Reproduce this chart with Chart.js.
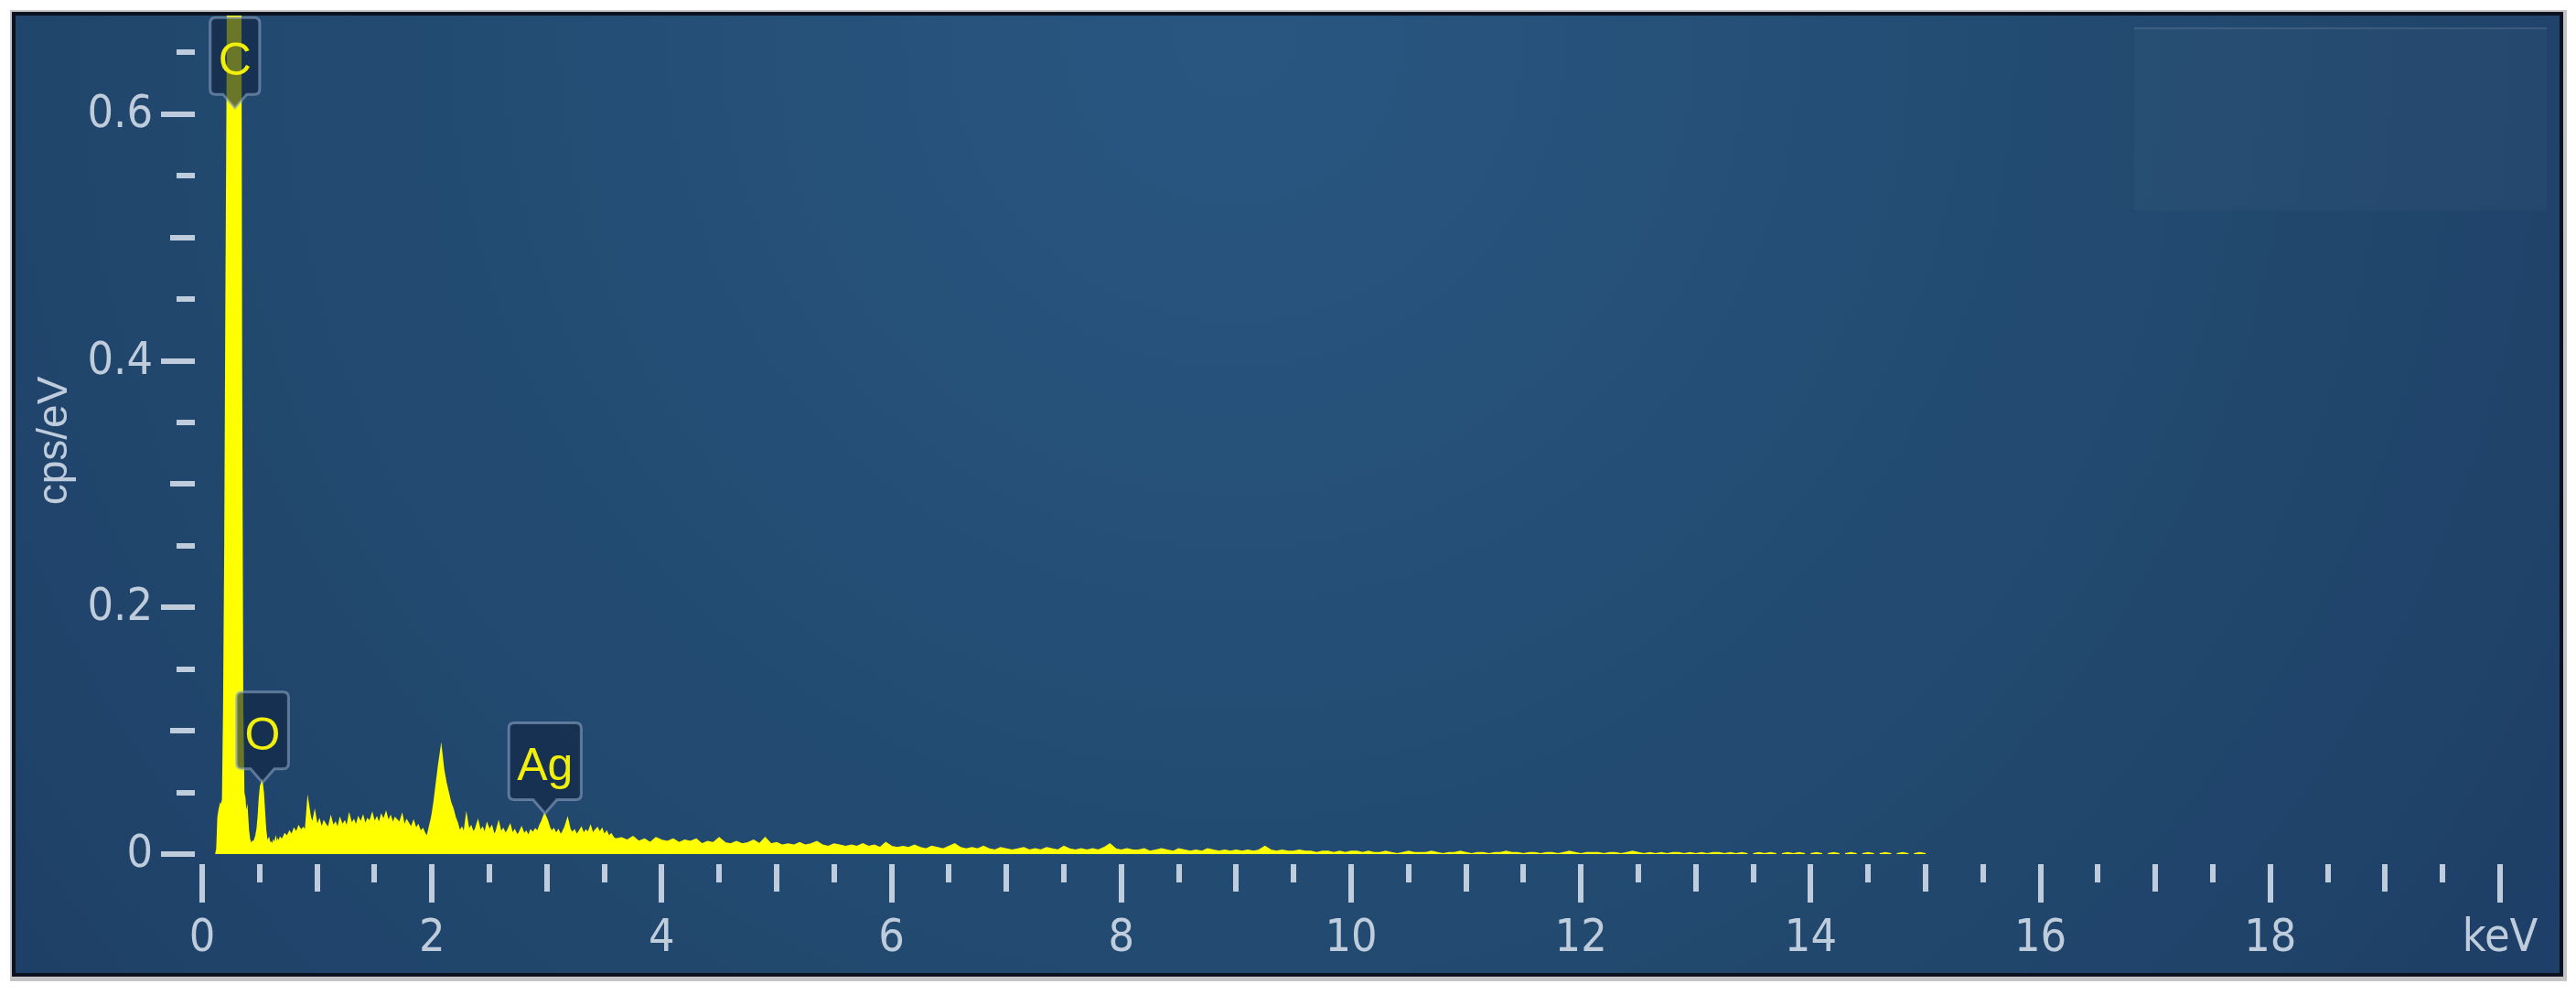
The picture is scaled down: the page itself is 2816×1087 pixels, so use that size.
<!DOCTYPE html>
<html>
<head>
<meta charset="utf-8">
<script src="https://cdn.jsdelivr.net/npm/chart.js@4.4.1/dist/chart.umd.min.js"></script>
<style>
html,body{margin:0;padding:0;background:#ffffff;overflow:hidden;}
canvas{display:block;}
</style>
</head>
<body>
<canvas id="chart" width="2816" height="1087"></canvas>
<script>
// ---------------- DATA ----------------
// Spectrum channels, segment A: 0.10 .. 0.69 keV, every 0.01 keV (cps/eV)
const segAStart = 0.10, segAStep = 0.01;
const segACounts = [
  0, 0, 0, 0.004, 0.03, 0.036, 0.04, 0.038, 0.045, 0.12,          // 0.10
  0.25, 0.45, 0.62, 0.95, 0.95, 0.95, 0.95, 0.95, 0.95, 0.95,     // 0.20
  0.95, 0.95, 0.95, 0.9, 0.4, 0.12, 0.05, 0.045, 0.03, 0.035,     // 0.30
  0.02, 0.012, 0.009, 0.008, 0.01, 0.009, 0.012, 0.015, 0.02, 0.03, // 0.40
  0.045, 0.055, 0.058, 0.05, 0.035, 0.02, 0.012, 0.01, 0.012, 0.008, // 0.50
  0.009, 0.006, 0.01, 0.008, 0.012, 0.007, 0.011, 0.009, 0.013, 0.012 // 0.60
];
// Segment B: 0.70 .. 3.60 keV, every 0.02 keV
const segBStart = 0.70, segBStep = 0.02;
const segBCounts = [
  0.012, 0.016, 0.014, 0.018, 0.015, 0.02, 0.017, 0.022, 0.019, 0.021,  // 0.70
  0.018, 0.042, 0.03, 0.024, 0.033, 0.022, 0.027, 0.02, 0.026, 0.023,   // 0.90
  0.021, 0.029, 0.022, 0.025, 0.02, 0.028, 0.023, 0.026, 0.021, 0.031,  // 1.10
  0.024, 0.027, 0.022, 0.029, 0.025, 0.03, 0.023, 0.028, 0.026, 0.032,  // 1.30
  0.025, 0.029, 0.024, 0.031, 0.027, 0.033, 0.026, 0.03, 0.024, 0.029,  // 1.50
  0.027, 0.025, 0.031, 0.022, 0.027, 0.024, 0.021, 0.026, 0.02, 0.023,  // 1.70
  0.018, 0.02, 0.016, 0.014, 0.022, 0.03, 0.042, 0.057, 0.072, 0.085,  // 1.90
  0.068, 0.058, 0.05, 0.042, 0.037, 0.03, 0.025, 0.018, 0.021, 0.016,  // 2.10
  0.03, 0.019, 0.022, 0.017, 0.02, 0.026, 0.018, 0.021, 0.016, 0.024,  // 2.30
  0.019, 0.022, 0.015, 0.018, 0.025, 0.017, 0.02, 0.016, 0.019, 0.023, // 2.50
  0.016, 0.019, 0.015, 0.017, 0.021, 0.016, 0.018, 0.014, 0.019, 0.017, // 2.70
  0.02, 0.018, 0.023, 0.027, 0.032, 0.028, 0.022, 0.018, 0.02, 0.016,  // 2.90
  0.019, 0.015, 0.018, 0.022, 0.028, 0.02, 0.017, 0.019, 0.015, 0.018, // 3.10
  0.021, 0.016, 0.019, 0.017, 0.022, 0.016, 0.019, 0.021, 0.017, 0.02, // 3.30
  0.015, 0.018, 0.014, 0.016, 0.013, 0.012                             // 3.50
];
// Segment C: 3.65 .. 15.00 keV, every 0.05 keV
const segCStart = 3.65, segCStep = 0.05;
const segCCounts = [
  0.013, 0.011, 0.014, 0.010, 0.012, 0.009, 0.013, 0.011, 0.010, 0.012, // 3.65
  0.009, 0.011, 0.010, 0.012, 0.008, 0.010, 0.009, 0.013, 0.009, 0.008, // 4.15
  0.010, 0.008, 0.009, 0.011, 0.008, 0.013, 0.008, 0.009, 0.007, 0.008, // 4.65
  0.007, 0.009, 0.007, 0.008, 0.010, 0.007, 0.006, 0.008, 0.007, 0.006, // 5.15
  0.007, 0.006, 0.008, 0.006, 0.007, 0.005, 0.009, 0.006, 0.005, 0.006, // 5.65
  0.005, 0.007, 0.005, 0.004, 0.006, 0.005, 0.004, 0.006, 0.008, 0.005, // 6.15
  0.004, 0.005, 0.004, 0.006, 0.004, 0.003, 0.005, 0.004, 0.003, 0.004, // 6.65
  0.005, 0.003, 0.004, 0.003, 0.005, 0.004, 0.003, 0.006, 0.004, 0.003, // 7.15
  0.004, 0.003, 0.004, 0.003, 0.005, 0.008, 0.004, 0.003, 0.004, 0.003, // 7.65
  0.003, 0.004, 0.002, 0.003, 0.004, 0.003, 0.002, 0.004, 0.003, 0.002, // 8.15
  0.003, 0.002, 0.004, 0.003, 0.002, 0.003, 0.002, 0.003, 0.002, 0.003, // 8.65
  0.002, 0.003, 0.006, 0.003, 0.002, 0.003, 0.002, 0.002, 0.003, 0.002, // 9.15
  0.002, 0.001, 0.002, 0.002, 0.001, 0.002, 0.001, 0.002, 0.002, 0.001, // 9.65
  0.002, 0.001, 0.001, 0.002, 0.001, 0.000, 0.001, 0.002, 0.001, 0.001, // 10.15
  0.001, 0.002, 0.001, 0.000, 0.001, 0.001, 0.002, 0.001, 0.000, 0.001, // 10.65
  0.001, 0.000, 0.001, 0.001, 0.002, 0.001, 0.001, 0.000, 0.001, 0.001, // 11.15
  0.000, 0.001, 0.001, 0.000, 0.001, 0.002, 0.001, 0.000, 0.001, 0.001, // 11.65
  0.001, 0.000, 0.001, 0.001, 0.000, 0.001, 0.002, 0.001, 0.000, 0.001, // 12.15
  0.000, 0.001, 0.000, 0.001, 0.001, 0.000, 0.001, 0.000, 0.001, 0.000, // 12.65
  0.001, 0.001, 0.000, 0.001, 0.000, 0.001, 0.000, 0.000, 0.001, 0.000, // 13.15
  0.001, 0.000, 0.000, 0.001, 0.000, 0.001, 0.000, 0.000, 0.001, 0.000, // 13.65
  0.000, 0.001, 0.000, 0.000, 0.001, 0.000, 0.000, 0.001, 0.000, 0.000, // 14.15
  0.001, 0.000, 0.000, 0.001, 0.000, 0.000, 0.001, 0.000               // 14.65
];

// Axis ticks
const xTickValues = [0, 2, 4, 6, 8, 10, 12, 14, 16, 18, 20];
const xTickLabels = ['0', '2', '4', '6', '8', '10', '12', '14', '16', '18', 'keV'];
const xMinorStep = 0.5;
const yTickValues = [0, 0.2, 0.4, 0.6];
const yTickLabels = ['0', '0.2', '0.4', '0.6'];
const yMinorStep = 0.05;
const yAxisTitle = 'cps/eV';

// Element peak tags
const peakLabels = ['C', 'O', 'Ag'];
const peakEnergies = [0.285, 0.525, 2.984];
const peakTipValues = [0.605, 0.058, 0.033];

// ---------------- BUILD ----------------
function buildSegment(start, step, counts) {
  return counts.map((v, i) => ({ x: +(start + i * step).toFixed(3), y: v }));
}
const spectrum = [].concat(
  buildSegment(segAStart, segAStep, segACounts),
  buildSegment(segBStart, segBStep, segBCounts),
  buildSegment(segCStart, segCStep, segCCounts)
);

const W = 2816, H = 1087;
const TICK_COLOR = 'rgba(205,216,230,0.92)';
const LABEL_COLOR = 'rgba(200,212,226,0.95)';
const LABEL_FONT = '"Liberation Sans Narrow", "DejaVu Sans Condensed", sans-serif';

const backgroundPlugin = {
  id: 'panelBackground',
  beforeDraw(chart) {
    const ctx = chart.ctx;
    ctx.save();
    ctx.fillStyle = '#ffffff';
    ctx.fillRect(0, 0, W, H);
    ctx.fillStyle = '#c4c4c4';
    ctx.fillRect(11, 11, 2795, 1062);
    ctx.fillStyle = '#0c1220';
    ctx.fillRect(13, 13, 2789, 1055);
    const g = ctx.createRadialGradient(1350, 40, 40, 1350, 40, 1750);
    g.addColorStop(0, '#285680');
    g.addColorStop(0.6, '#22496f');
    g.addColorStop(1, '#1e3f67');
    ctx.fillStyle = g;
    ctx.fillRect(17, 17, 2781, 1047);
    ctx.fillStyle = 'rgba(255,255,255,0.025)';
    ctx.fillRect(2333, 30, 451, 200);
    ctx.fillStyle = 'rgba(255,255,255,0.10)';
    ctx.fillRect(2333, 30, 451, 2);
    ctx.restore();
  }
};

function tagPath(ctx, cx, tipY, w, h, ph, pw, r) {
  const bottom = tipY - ph;
  const top = bottom - h;
  const left = cx - w / 2, right = cx + w / 2;
  ctx.beginPath();
  ctx.moveTo(left + r, top);
  ctx.lineTo(right - r, top);
  ctx.quadraticCurveTo(right, top, right, top + r);
  ctx.lineTo(right, bottom - r);
  ctx.quadraticCurveTo(right, bottom, right - r, bottom);
  ctx.lineTo(cx + pw, bottom);
  ctx.lineTo(cx, tipY);
  ctx.lineTo(cx - pw, bottom);
  ctx.lineTo(left + r, bottom);
  ctx.quadraticCurveTo(left, bottom, left, bottom - r);
  ctx.lineTo(left, top + r);
  ctx.quadraticCurveTo(left, top, left + r, top);
  ctx.closePath();
  return top;
}

const axesPlugin = {
  id: 'edsAxes',
  afterDatasetsDraw(chart) {
    const ctx = chart.ctx;
    const xs = chart.scales.x, ys = chart.scales.y;
    const area = chart.chartArea;
    ctx.save();
    // peak tags
    ctx.font = '50px "Liberation Sans", Arial, sans-serif';
    peakLabels.forEach((lab, i) => {
      const cx = xs.getPixelForValue(peakEnergies[i]);
      const tip = ys.getPixelForValue(peakTipValues[i]);
      const tw = ctx.measureText(lab).width;
      const w = tw + 18;
      const top = tagPath(ctx, cx, tip, w, 84, 15, 13, 6);
      ctx.fillStyle = 'rgba(16,36,64,0.62)';
      ctx.fill();
      ctx.lineWidth = 3;
      ctx.strokeStyle = 'rgba(150,172,200,0.55)';
      ctx.stroke();
      ctx.fillStyle = '#f2ef0a';
      ctx.textAlign = 'center';
      ctx.textBaseline = 'alphabetic';
      ctx.fillText(lab, cx, top + 63);
    });

    // x ticks
    const base = ys.getPixelForValue(0);
    ctx.fillStyle = TICK_COLOR;
    const nX = Math.round((xs.max - xs.min) / xMinorStep);
    for (let i = 0; i <= nX; i++) {
      const v = xs.min + i * xMinorStep;
      const px = xs.getPixelForValue(v);
      const len = (i % 4 === 0) ? 42 : (i % 2 === 0 ? 30 : 20);
      ctx.fillRect(Math.round(px - 3), Math.round(base + 11), 6, len);
    }
    // y ticks
    const nY = Math.floor((ys.max - ys.min) / yMinorStep + 1e-6);
    for (let j = 0; j <= nY; j++) {
      const v = j * yMinorStep;
      const py = ys.getPixelForValue(v);
      const len = (j % 4 === 0) ? 37 : (j % 2 === 0 ? 27 : 20);
      ctx.fillRect(Math.round(area.left - 8 - len), Math.round(py - 3), len, 6);
    }
    // x labels
    ctx.fillStyle = LABEL_COLOR;
    ctx.font = '50px ' + LABEL_FONT;
    ctx.textAlign = 'center';
    ctx.textBaseline = 'middle';
    xTickValues.forEach((v, i) => {
      ctx.fillText(xTickLabels[i], xs.getPixelForValue(v), 1027);
    });
    // y labels
    ctx.textAlign = 'right';
    yTickValues.forEach((v, i) => {
      ctx.fillText(yTickLabels[i], 167, ys.getPixelForValue(v) + 1);
    });
    // y title
    ctx.font = '46px "Liberation Sans", Arial, sans-serif';
    ctx.translate(60, 482);
    ctx.rotate(-Math.PI / 2);
    ctx.textAlign = 'center';
    ctx.textBaseline = 'middle';
    ctx.fillText(yAxisTitle, 0, 0);
    ctx.restore();
  }
};

new Chart(document.getElementById('chart'), {
  type: 'line',
  data: {
    datasets: [{
      label: 'Spectrum',
      data: spectrum,
      borderColor: '#ffff00',
      backgroundColor: '#ffff00',
      borderWidth: 2,
      pointRadius: 0,
      tension: 0,
      fill: 'origin',
      segment: {
        borderColor: c => (c.p0.parsed.y === 0 && c.p1.parsed.y === 0) ? 'rgba(0,0,0,0)' : undefined
      }
    }]
  },
  options: {
    responsive: false,
    maintainAspectRatio: false,
    devicePixelRatio: 1,
    animation: false,
    events: [],
    layout: { padding: { left: 221, right: 83, top: 17, bottom: 153 } },
    plugins: { legend: { display: false }, tooltip: { enabled: false }, title: { display: false } },
    scales: {
      x: { type: 'linear', min: 0, max: 20, display: false },
      y: { type: 'linear', min: 0, max: 0.68, display: false }
    }
  },
  plugins: [backgroundPlugin, axesPlugin]
});
</script>
</body>
</html>
